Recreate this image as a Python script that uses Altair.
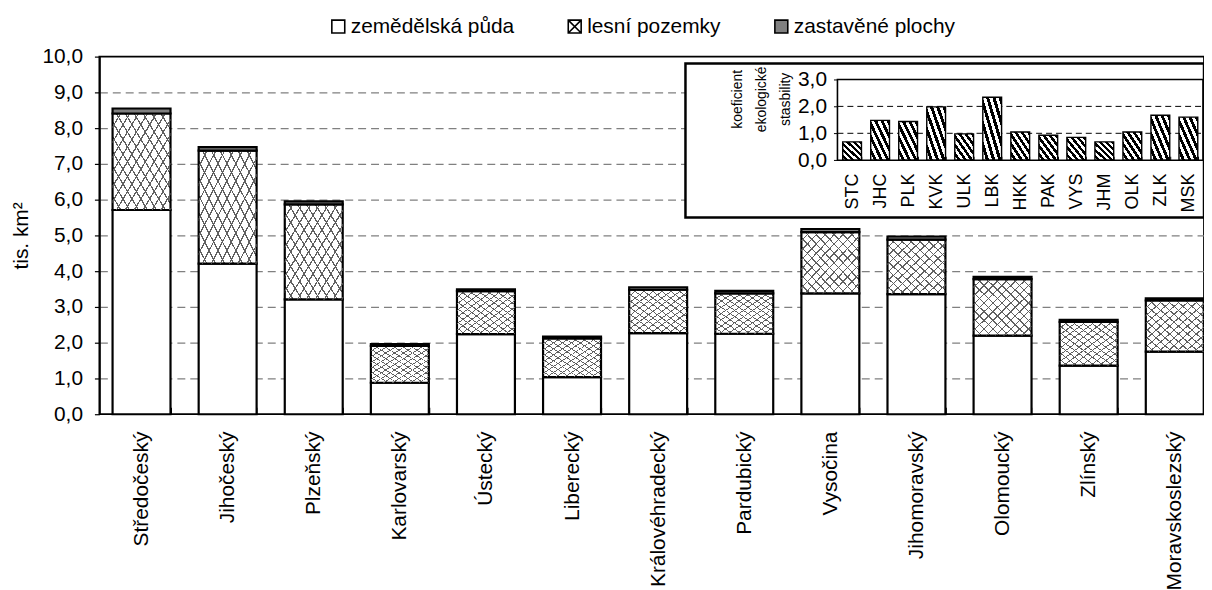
import altair as alt
import pandas as pd

# ---------------- data ----------------
regions = ["Středočeský", "Jihočeský", "Plzeňský", "Karlovarský", "Ústecký",
           "Liberecký", "Královéhradecký", "Pardubický", "Vysočina",
           "Jihomoravský", "Olomoucký", "Zlínský", "Moravskoslezský"]
series = ["zemědělská půda", "lesní pozemky", "zastavěné plochy"]
zemedelska = [5.71, 4.21, 3.21, 0.88, 2.24, 1.04, 2.27, 2.25, 3.38, 3.36, 2.20, 1.36, 1.75]
lesni = [2.70, 3.16, 2.66, 1.03, 1.20, 1.08, 1.21, 1.13, 1.71, 1.52, 1.58, 1.22, 1.43]
zastavene = [0.14, 0.10, 0.08, 0.05, 0.05, 0.05, 0.07, 0.07, 0.09, 0.09, 0.06, 0.06, 0.06]

abbr = ["STC", "JHC", "PLK", "KVK", "ULK", "LBK", "HKK", "PAK", "VYS", "JHM", "OLK", "ZLK", "MSK"]
kes = [0.68, 1.48, 1.44, 1.98, 0.98, 2.34, 1.05, 0.93, 0.85, 0.68, 1.05, 1.67, 1.60]
kes_grid = [1, 2]

main_ticks = list(range(0, 11))
inset_ticks = [0, 1, 2, 3]
inset_title = ["koeficient", "ekologické", "stasbility"]

rows = []
for i, r in enumerate(regions):
    cum = 0.0
    for s, vals in zip(series, [zemedelska, lesni, zastavene]):
        rows.append({"region": r, "series": s, "start": cum, "end": cum + vals[i]})
        cum += vals[i]
df = pd.DataFrame(rows)
df_in = pd.DataFrame({"abbr": abbr, "kes": kes})
df_grid = pd.DataFrame({"kes": kes_grid})
one = pd.DataFrame({"k": [0]})

# ---------------- layout / style ----------------
FONT = "Liberation Sans"
W, H = 1112, 360
X_RANGE = [0, 1125]
INSET_X = [743, 1111]
INSET_Y = [104.3, 23]
COMMA = "replace(format(datum.value, '.1f'), '.', ',')"
FILL_ZEM = "white"
FILL_ZAST = "#808080"
BOX_X_SYMBOL = "M-1,-1H1V1H-1Z M-1,-1L1,1 M1,-1L-1,1"


def stripes(x1, y1, x2, y2, n, frac, bg, fg):
    stops = []
    for k in range(n):
        a = k / n
        b = (k + 1 - frac) / n
        c = (k + 1) / n
        stops += [(a, bg), (b, bg), (b, fg), (c, fg)]
    return alt.Gradient(
        gradient="linear", x1=x1, y1=y1, x2=x2, y2=y2,
        stops=[alt.GradientStop(offset=round(o, 5), color=col) for o, col in stops],
    )


hatch_a = stripes(0, 1, 1, 0, 13, 0.16, "white", "#606060")
hatch_b = stripes(0, 0, 1, 1, 13, 0.16, "transparent", "#606060")
diag = stripes(0, 1, 1, 0, 6, 0.5, "white", "black")

# ---------------- main chart ----------------
xmain = alt.X(
    "region:N", sort=regions,
    scale=alt.Scale(range=X_RANGE, paddingInner=0.327, paddingOuter=0.153),
    axis=alt.Axis(title=None, labelAngle=270, labelFontSize=21, labelColor="black",
                  labelPadding=17, offset=-7, tickSize=7, tickBand="extent",
                  tickColor="black", tickWidth=1.2, domain=False, grid=False,
                  labelLimit=400),
)
ymain = alt.Y(
    "start:Q",
    scale=alt.Scale(domain=[0, 10], nice=False),
    axis=alt.Axis(values=main_ticks, title="tis. km²", labelExpr=COMMA,
                  grid=True, gridDash=[8, 5], gridColor="#808080", gridWidth=1.3,
                  gridOpacity={"condition": {"test": "datum.value == 0 || datum.value == 10", "value": 0}, "value": 1},
                  tickSize=5, tickColor="black", tickWidth=1.2,
                  domainColor="black", domainWidth=1.8,
                  labelFontSize=21, labelColor="black", labelPadding=12,
                  titleFontSize=21, titleFontWeight="normal", titleColor="black",
                  titlePadding=10),
)

base = alt.Chart(df)
zem_bars = base.transform_filter(alt.datum.series == series[0]).mark_bar(
    fill=FILL_ZEM, stroke="black", strokeWidth=2.2).encode(x=xmain, y=ymain, y2="end:Q")
forest = base.transform_filter(alt.datum.series == series[1])
hatch1 = forest.mark_bar(fill=hatch_a, stroke="black", strokeWidth=2.2).encode(
    x=xmain, y=ymain, y2="end:Q")
hatch2 = forest.mark_bar(fill=hatch_b, strokeWidth=0).encode(
    x=xmain, y=ymain, y2="end:Q")
zast_bars = base.transform_filter(alt.datum.series == series[2]).mark_bar(
    fill=FILL_ZAST, stroke="black", strokeWidth=2.2).encode(x=xmain, y=ymain, y2="end:Q")

legend = alt.Legend(title=None, orient="none", legendX=230, legendY=-41,
                    direction="horizontal", columns=3, columnPadding=50,
                    symbolSize=169, symbolStrokeWidth=1.6, symbolOpacity=1,
                    labelFontSize=21, labelColor="black", labelOffset=2,
                    labelLimit=400)
legend_layer = base.transform_filter("datum.start < 0").mark_point(filled=True).encode(
    x=xmain, y=ymain,
    fill=alt.Fill("series:N", sort=series,
                  scale=alt.Scale(domain=series, range=[FILL_ZEM, "white", FILL_ZAST]),
                  legend=legend),
    stroke=alt.Stroke("series:N", sort=series,
                      scale=alt.Scale(domain=series, range=["black", "black", "black"]),
                      legend=legend),
    shape=alt.Shape("series:N", sort=series,
                    scale=alt.Scale(domain=series, range=["square", BOX_X_SYMBOL, "square"]),
                    legend=legend),
)

main = alt.layer(zem_bars, hatch1, hatch2, zast_bars, legend_layer)

# ---------------- inset box ----------------
box = alt.Chart(one).mark_rect(fill="white", stroke="black", strokeWidth=2.5).encode(
    x=alt.value(590), x2=alt.value(1112), y=alt.value(7), y2=alt.value(162))

# ---------------- inset chart ----------------
xin = alt.X(
    "abbr:N", sort=abbr,
    scale=alt.Scale(range=INSET_X, paddingInner=0.33, paddingOuter=0.187),
    axis=alt.Axis(orient="bottom", offset=-259.7, title=None, labelAngle=270,
                  labelFontSize=18, labelColor="black", labelPadding=13,
                  tickSize=4, tickBand="extent", tickColor="black",
                  domain=False, grid=False, zindex=1),
)
yin = alt.Y(
    "kes:Q",
    scale=alt.Scale(domain=[0, 3], nice=False, range=INSET_Y),
    axis=alt.Axis(orient="left", offset=-743, values=inset_ticks, labelExpr=COMMA,
                  grid=False, tickSize=4, tickColor="black", domain=False,
                  labelFontSize=21, labelColor="black", labelPadding=7,
                  title=None, zindex=1),
)
in_grid = alt.Chart(df_grid).mark_rule(color="black", strokeWidth=1, strokeDash=[6, 4]).encode(
    y=yin, x=alt.value(INSET_X[0]), x2=alt.value(INSET_X[1]))
in_bars = alt.Chart(df_in).mark_bar(fill=diag, stroke="black", strokeWidth=1.4).encode(
    x=xin, y=yin)
in_frame = alt.Chart(one).mark_rect(fillOpacity=0, stroke="black", strokeWidth=1.6).encode(
    x=alt.value(INSET_X[0]), x2=alt.value(INSET_X[1]),
    y=alt.value(INSET_Y[1]), y2=alt.value(INSET_Y[0]))
in_title = alt.Chart(one).mark_text(
    text=inset_title, angle=270, fontSize=14, lineHeight=24, font=FONT,
    align="center", baseline="middle", color="black",
).encode(x=alt.value(643), y=alt.value(43))

inset = alt.layer(in_grid, in_bars, in_frame, in_title)

chart = (
    alt.layer(main, box, inset)
    .resolve_scale(x="independent", y="independent")
    .properties(width=W, height=H,
                padding={"left": 92, "top": 47, "right": 0, "bottom": 174},
                autosize=alt.AutoSizeParams(type="none"))
    .configure(font=FONT, background="white")
    .configure_view(stroke="black", strokeWidth=1.8)
    .configure_axis(labelFont=FONT, titleFont=FONT)
    .configure_legend(labelFont=FONT)
)

chart.save("out.html", embed_options={"renderer": "svg", "actions": False})
